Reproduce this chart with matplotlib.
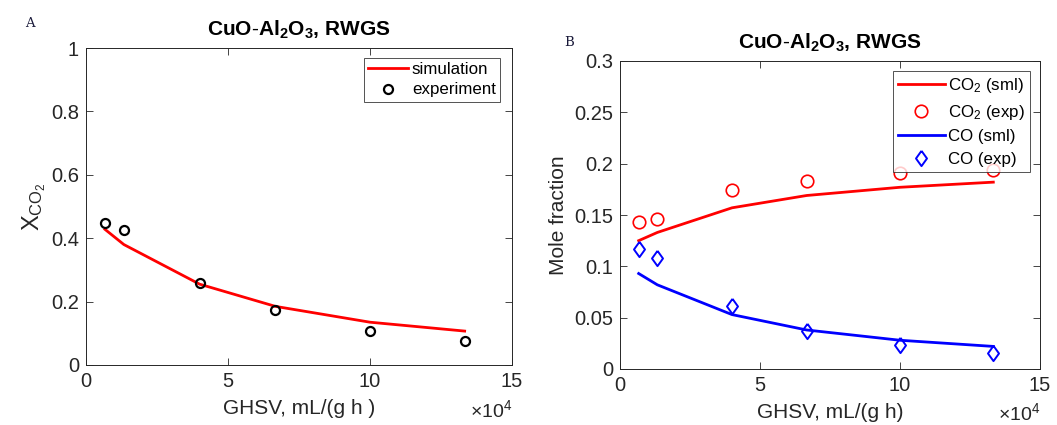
import matplotlib
matplotlib.use("Agg")
import matplotlib.pyplot as plt
from matplotlib.ticker import FixedLocator

plt.rcParams['font.family'] = ['Liberation Sans', 'DejaVu Sans']
plt.rcParams['mathtext.fontset'] = 'custom'
plt.rcParams['mathtext.rm'] = 'Liberation Sans'
plt.rcParams['mathtext.it'] = 'Liberation Sans'
plt.rcParams['mathtext.bf'] = 'Liberation Sans:bold'

# GHSV in units of 1e4 mL/(g h)
ghsv = [0.667, 1.333, 4.0, 6.667, 10.0, 13.333]

# Panel A: CO2 conversion
xco2_sim = [0.428, 0.380, 0.255, 0.185, 0.135, 0.107]
xco2_exp = [0.448, 0.425, 0.260, 0.172, 0.108, 0.077]

# Panel B: outlet mole fractions
co2_sim = [0.125, 0.133, 0.157, 0.169, 0.177, 0.182]
co2_exp = [0.143, 0.146, 0.174, 0.183, 0.191, 0.194]
co_sim = [0.093, 0.082, 0.053, 0.038, 0.028, 0.022]
co_exp = [0.117, 0.108, 0.061, 0.037, 0.023, 0.016]

W, H = 1057, 425
fig = plt.figure(figsize=(W / 100, H / 100), dpi=100)

axc = '#262626'
tick_fs = 14.5
diamond = [(0, 1), (0.72, 0), (0, -1), (-0.72, 0), (0, 1)]


def box(l, t, r, b):
    return [l / W, 1 - b / H, (r - l) / W, (b - t) / H]


def style(ax, ylim, yticks, yfmt, xlabel):
    ax.set_xlim(0, 15)
    ax.set_ylim(*ylim)
    ax.xaxis.set_major_locator(FixedLocator([0, 5, 10, 15]))
    ax.yaxis.set_major_locator(FixedLocator(yticks))
    ax.set_xticklabels(['0', '5', '10', '15'])
    ax.set_yticklabels([yfmt(v) for v in yticks])
    ax.tick_params(direction='in', top=True, right=True, length=5, width=0.6,
                   colors=axc, labelsize=tick_fs, pad=5)
    for s in ax.spines.values():
        s.set_color(axc)
        s.set_linewidth(0.7)
    ax.text(1.0, -0.108, r'$\times\mathregular{10}^{\mathregular{4}}$',
            transform=ax.transAxes, ha='right', va='top', fontsize=14,
            color=axc)
    ax.set_xlabel(xlabel, fontsize=15, color=axc, labelpad=6)


def fmt(v):
    return '0' if v == 0 else ('1' if v == 1 else f'{v:g}')


title = r'$\mathbf{CuO\text{-}Al_2O_3}$, RWGS'

# Panel A
axA = fig.add_axes(box(86, 48, 512, 365))
axA.plot(ghsv, xco2_sim, color='red', lw=2, label='simulation')
axA.plot(ghsv, xco2_exp, ls='none', marker='o', ms=6.5, mfc='none',
         mec='black', mew=1.6, label='experiment')
style(axA, (0, 1), [0, 0.2, 0.4, 0.6, 0.8, 1.0], fmt, 'GHSV, mL/(g h )')
axA.set_ylabel(r'X$_{\mathregular{CO}_{\mathregular{2}}}$', fontsize=17,
               color=axc, labelpad=2)
axA.set_title(title, fontsize=15, fontweight='bold', color='black', pad=9)
legA = axA.legend(loc='upper right', bbox_to_anchor=(0.972, 0.968),
                  fontsize=12.2, frameon=True, fancybox=False,
                  handlelength=2.35, handletextpad=0.25, borderpad=0.25,
                  labelspacing=0.3, borderaxespad=0)
legA.get_frame().set_edgecolor(axc)
legA.get_frame().set_linewidth(0.7)
fig.text(25 / W, 1 - 27 / H, 'A', fontsize=9.5, family='DejaVu Serif',
         color='#1a1a3a')

# Panel B
axB = fig.add_axes(box(620, 61, 1040, 369))
axB.plot(ghsv, co2_sim, color='red', lw=2, label=r'CO$_2$ (sml)')
axB.plot(ghsv, co2_exp, ls='none', marker='o', ms=9, mfc='none',
         mec='red', mew=1.2, label=r'CO$_2$ (exp)')
axB.plot(ghsv, co_sim, color='blue', lw=2, label='CO (sml)')
axB.plot(ghsv, co_exp, ls='none', marker=diamond, ms=11, mfc='none',
         mec='blue', mew=1.4, label='CO (exp)')
style(axB, (0, 0.3), [0, 0.05, 0.1, 0.15, 0.2, 0.25, 0.3], fmt,
      'GHSV, mL/(g h)')
axB.set_ylabel('Mole fraction', fontsize=15, color=axc, labelpad=4)
axB.set_title(title, fontsize=15, fontweight='bold', color='black', pad=9)
legB = axB.legend(loc='upper right', bbox_to_anchor=(0.975, 0.968),
                  fontsize=12.2, frameon=True, fancybox=False,
                  handlelength=2.8, handletextpad=0.15, borderpad=0.3,
                  labelspacing=0.45, borderaxespad=0)
legB.get_frame().set_edgecolor(axc)
legB.get_frame().set_linewidth(0.7)
fig.text(564 / W, 1 - 46 / H, 'B', fontsize=9.5, family='DejaVu Serif',
         color='#1a1a3a')

fig.savefig('out.png', dpi=100)
